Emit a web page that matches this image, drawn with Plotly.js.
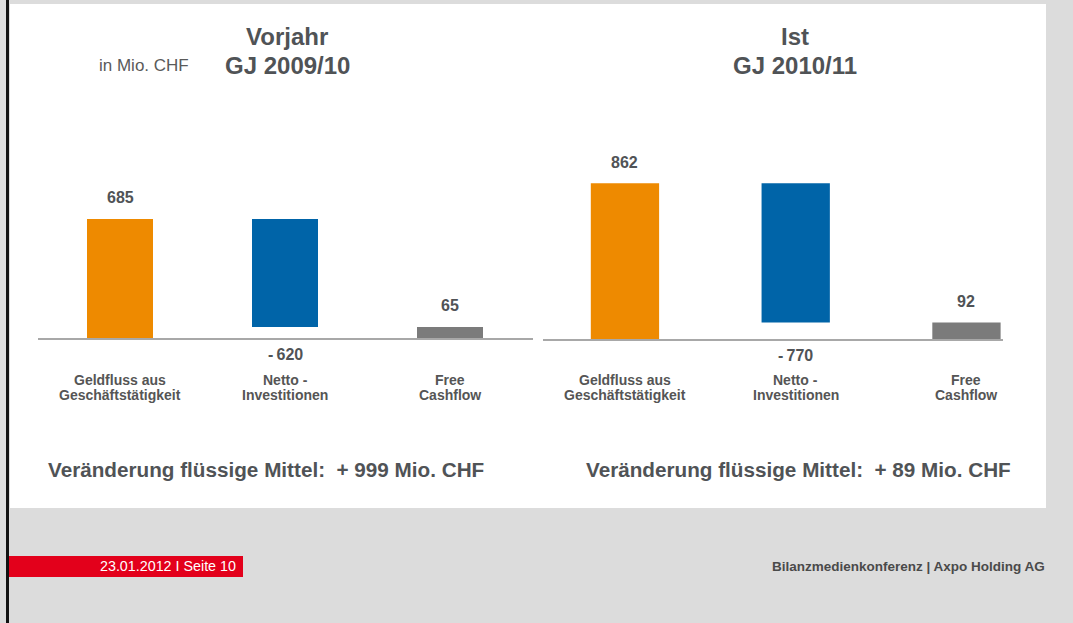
<!DOCTYPE html>
<html>
<head>
<meta charset="utf-8">
<script src="https://cdn.plot.ly/plotly-3.0.1.min.js"></script>
<style>
  html, body { margin: 0; padding: 0; background: #dcdcdc; }
  #chart { width: 1073px; height: 623px; }
</style>
</head>
<body>
<div id="chart"></div>
<script>
// ---- Data ----
const categories = ["Geldfluss aus Geschäftstätigkeit", "Netto-Investitionen", "Free Cashflow"];
const categoryLine1 = ["Geldfluss aus", "Netto -", "Free"];
const categoryLine2 = ["Geschäftstätigkeit", "Investitionen", "Cashflow"];
const measures = ["relative", "relative", "total"];
const valuesPrev = [685, -620, 65];   // Vorjahr GJ 2009/10
const valuesCurr = [862, -770, 92];   // Ist GJ 2010/11
const panelTitles = [["Vorjahr", "GJ 2009/10"], ["Ist", "GJ 2010/11"]];
const changeTexts = ["Veränderung flüssige Mittel:\u00a0\u00a0+ 999 Mio. CHF",
                     "Veränderung flüssige Mittel:\u00a0\u00a0+ 89 Mio. CHF"];
const unitText = "in Mio. CHF";
const footerLeft = "23.01.2012 I Seite 10";
const footerRight = "Bilanzmedienkonferenz | Axpo Holding AG";

// ---- Styles ----
const ORANGE = "#ee8a00", BLUE = "#0064a8", GREY = "#7b7b7b";
const TXT = "#505356";
const FONT = "Liberation Sans, Arial, sans-serif";
const W = 1073, H = 623;
const py = p => (H - p) / H;   // pixel y -> paper y

function wf(vals, xa, ya) {
  return {
    type: "waterfall",
    x: categories, y: vals, measure: measures,
    xaxis: xa, yaxis: ya,
    width: 0.4,
    increasing: { marker: { color: ORANGE, line: { width: 0 } } },
    decreasing: { marker: { color: BLUE, line: { width: 0 } } },
    totals: { marker: { color: GREY, line: { width: 0 } } },
    connector: { visible: false },
    hoverinfo: "skip",
    textinfo: "none",
    showlegend: false
  };
}

function fmt(v) { return v < 0 ? "-\u2009" + Math.abs(v) : String(v); }

const annotations = [];
function valueLabels(vals, xr, yr) {
  let cum = 0;
  vals.forEach((v, i) => {
    let top;
    if (measures[i] === "total") { top = cum; } else { cum += v; top = cum; }
    if (v >= 0) {
      annotations.push({ xref: xr, yref: yr, x: categories[i], y: top, xanchor: "center", yanchor: "middle",
        yshift: 21, showarrow: false, text: fmt(v),
        font: { family: FONT, size: 16, color: TXT, weight: "bold" } });
    } else {
      annotations.push({ xref: xr, yref: yr, x: categories[i], y: 0, xanchor: "center", yanchor: "middle",
        yshift: -16, showarrow: false, text: fmt(v),
        font: { family: FONT, size: 16, color: TXT, weight: "bold" } });
    }
  });
}
function catLabels(xr) {
  categories.forEach((c, i) => {
    annotations.push({ xref: xr, yref: "paper", x: c, y: py(380), xanchor: "center", yanchor: "middle",
      showarrow: false, text: categoryLine1[i],
      font: { family: FONT, size: 14, color: "#555555", weight: "bold" } });
    annotations.push({ xref: xr, yref: "paper", x: c, y: py(395), xanchor: "center", yanchor: "middle",
      showarrow: false, text: categoryLine2[i],
      font: { family: FONT, size: 14, color: "#555555", weight: "bold" } });
  });
}
valueLabels(valuesPrev, "x", "y");
valueLabels(valuesCurr, "x2", "y2");
catLabels("x");
catLabels("x2");

// titles
[[287, panelTitles[0]], [795, panelTitles[1]]].forEach(([cx, t]) => {
  annotations.push({ xref: "paper", yref: "paper", x: cx / W, xanchor: "center", y: py(36), yanchor: "middle",
    showarrow: false, text: t[0], font: { family: FONT, size: 24, color: TXT, weight: "bold" } });
  annotations.push({ xref: "paper", yref: "paper", x: cx / W, xanchor: "center", y: py(65), yanchor: "middle",
    showarrow: false, text: t[1], font: { family: FONT, size: 24, color: TXT, weight: "bold" } });
});
annotations.push({ xref: "paper", yref: "paper", x: 97 / W, xanchor: "left", y: py(65), yanchor: "middle",
  showarrow: false, text: unitText, font: { family: FONT, size: 17, color: "#5a5a5a" } });
annotations.push({ xref: "paper", yref: "paper", x: 46 / W, xanchor: "left", y: py(470), yanchor: "middle",
  showarrow: false, text: changeTexts[0], font: { family: FONT, size: 20.7, color: TXT, weight: "bold" } });
annotations.push({ xref: "paper", yref: "paper", x: 584 / W, xanchor: "left", y: py(470), yanchor: "middle",
  showarrow: false, text: changeTexts[1], font: { family: FONT, size: 20.7, color: TXT, weight: "bold" } });
annotations.push({ xref: "paper", yref: "paper", x: 238 / W, xanchor: "right", y: py(566), yanchor: "middle",
  showarrow: false, text: footerLeft, font: { family: FONT, size: 14.3, color: "#ffffff" } });
annotations.push({ xref: "paper", yref: "paper", x: 1047 / W, xanchor: "right", y: py(566), yanchor: "middle",
  showarrow: false, text: footerRight, font: { family: FONT, size: 13.5, color: "#4a4a4a", weight: "bold" } });

const shapes = [
  { type: "rect", xref: "paper", yref: "paper", x0: 10 / W, x1: 1046 / W, y0: py(508), y1: py(4),
    fillcolor: "#ffffff", line: { width: 0 }, layer: "below" },
  { type: "rect", xref: "paper", yref: "paper", x0: 9 / W, x1: 243 / W, y0: py(577), y1: py(556),
    fillcolor: "#e3001b", line: { width: 0 }, layer: "below" },
  { type: "rect", xref: "paper", yref: "paper", x0: 6 / W, x1: 9 / W, y0: 0, y1: 1,
    fillcolor: "#111111", line: { width: 0 }, layer: "above" }
];

const xCommon = { type: "category", showticklabels: false, showgrid: false, zeroline: false,
  showline: true, linecolor: "#a8a8a8", linewidth: 2, ticks: "", fixedrange: true };
const yCommon = { visible: false, showgrid: false, zeroline: false, fixedrange: true };

const layout = {
  width: W, height: H,
  margin: { l: 0, r: 0, t: 0, b: 0 },
  paper_bgcolor: "#dcdcdc", plot_bgcolor: "rgba(0,0,0,0)",
  showlegend: false,
  xaxis: Object.assign({}, xCommon, { domain: [37.5 / W, 532.5 / W], range: [-0.5, 2.5], anchor: "y" }),
  yaxis: Object.assign({}, yCommon, { domain: [py(338.3), py(100)], range: [0, 1368], anchor: "x" }),
  xaxis2: Object.assign({}, xCommon, { domain: [543 / W, 1003 / W], range: [-0.48, 2.214], anchor: "y2" }),
  yaxis2: Object.assign({}, yCommon, { domain: [py(339), py(100)], range: [0, 1323], anchor: "x2" }),
  annotations: annotations,
  shapes: shapes
};

Plotly.newPlot("chart", [wf(valuesPrev, "x", "y"), wf(valuesCurr, "x2", "y2")], layout,
  { displayModeBar: false, staticPlot: true });
</script>
</body>
</html>
